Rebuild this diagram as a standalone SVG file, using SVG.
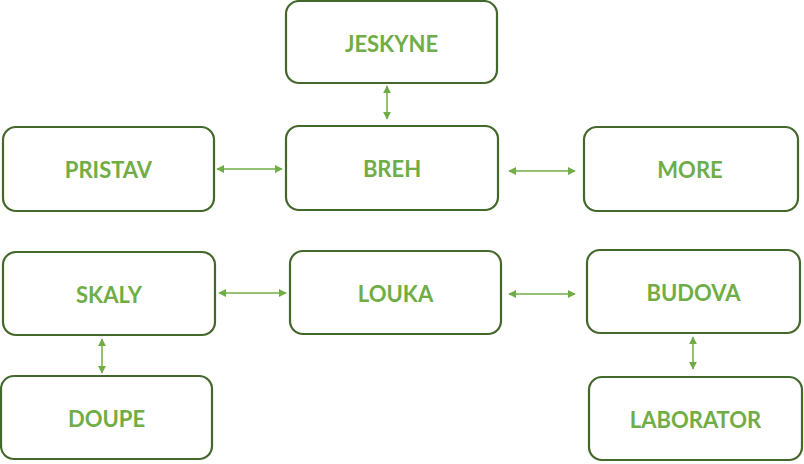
<svg xmlns="http://www.w3.org/2000/svg" width="804" height="464" viewBox="0 0 804 464">
<defs>
<style>
.box{fill:#fff;stroke:#44682b;stroke-width:2.2}
.lbl{font-family:Lato,"Liberation Sans",sans-serif;font-weight:bold;font-size:22px;fill:#70ad47;text-anchor:middle;dominant-baseline:central}
.ar{stroke:#70ad47;stroke-width:1.5;fill:none;marker-start:url(#ah);marker-end:url(#ah)}
</style>
<marker id="ah" viewBox="0 0 10 10" refX="9" refY="5" markerWidth="8" markerHeight="8" orient="auto-start-reverse" markerUnits="userSpaceOnUse">
<path d="M0,0 L10,5 L0,10 z" fill="#70ad47"/>
</marker>
</defs>
<rect width="804" height="464" fill="#fff"/>
<g id="jeskyne"><rect class="box" x="286" y="1" width="211" height="82" rx="13"/><text class="lbl" x="391.5" y="43">JESKYNE</text></g>
<g id="breh"><rect class="box" x="286" y="126" width="212" height="84" rx="13"/><text class="lbl" x="392" y="168">BREH</text></g>
<g id="pristav"><rect class="box" x="3" y="127" width="211" height="84" rx="13"/><text class="lbl" x="108.5" y="169">PRISTAV</text></g>
<g id="more"><rect class="box" x="584" y="127" width="214" height="84" rx="13"/><text class="lbl" x="690" y="169">MORE</text></g>
<g id="skaly"><rect class="box" x="3" y="252" width="212" height="83" rx="13"/><text class="lbl" x="109" y="294">SKALY</text></g>
<g id="louka"><rect class="box" x="290" y="251" width="211" height="83" rx="13"/><text class="lbl" x="395.5" y="293">LOUKA</text></g>
<g id="budova"><rect class="box" x="587" y="250" width="213" height="83" rx="13"/><text class="lbl" x="693.5" y="292">BUDOVA</text></g>
<g id="doupe"><rect class="box" x="1" y="376" width="211" height="83" rx="13"/><text class="lbl" x="106.5" y="418">DOUPE</text></g>
<g id="laborator"><rect class="box" x="589" y="377" width="213" height="83" rx="13"/><text class="lbl" x="695.5" y="419">LABORATOR</text></g>
<g id="connectors">
<line class="ar" x1="387" y1="86" x2="387" y2="119"/>
<line class="ar" x1="217" y1="169" x2="282" y2="169"/>
<line class="ar" x1="509" y1="171" x2="575" y2="171"/>
<line class="ar" x1="219" y1="293" x2="286" y2="293"/>
<line class="ar" x1="509" y1="294" x2="575" y2="294"/>
<line class="ar" x1="102" y1="339" x2="102" y2="373"/>
<line class="ar" x1="693" y1="337" x2="693" y2="369"/>
</g>
</svg>
